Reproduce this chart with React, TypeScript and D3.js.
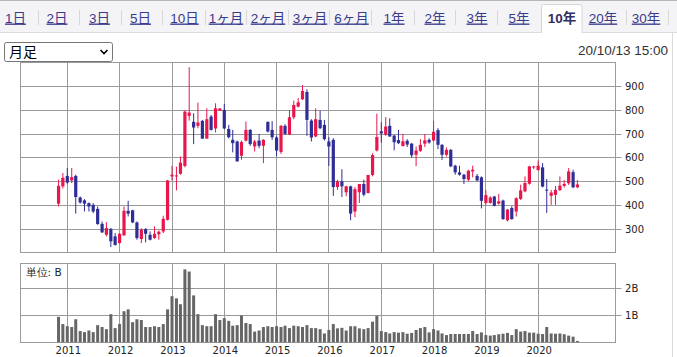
import React from "react";
import * as d3 from "d3";

const tabLabels = ["1日","2日","3日","5日","10日","1ヶ月","2ヶ月","3ヶ月","6ヶ月","1年","2年","3年","5年","10年","20年","30年"];
const tabCenters = [15.5, 57, 99.5, 140.5, 184.5, 226, 268, 310, 351.5, 394, 435, 477, 519, 562, 603, 646];
const tabSeparators = [38, 79, 121, 162, 205, 246, 288, 329, 371, 414, 455, 497, 626, 668];
const selectedTab = "10年";

const months = [
  "2010-11","2010-12",
  "2011-01","2011-02","2011-03","2011-04","2011-05","2011-06","2011-07","2011-08","2011-09","2011-10","2011-11","2011-12",
  "2012-01","2012-02","2012-03","2012-04","2012-05","2012-06","2012-07","2012-08","2012-09","2012-10","2012-11","2012-12",
  "2013-01","2013-02","2013-03","2013-04","2013-05","2013-06","2013-07","2013-08","2013-09","2013-10","2013-11","2013-12",
  "2014-01","2014-02","2014-03","2014-04","2014-05","2014-06","2014-07","2014-08","2014-09","2014-10","2014-11","2014-12",
  "2015-01","2015-02","2015-03","2015-04","2015-05","2015-06","2015-07","2015-08","2015-09","2015-10","2015-11","2015-12",
  "2016-01","2016-02","2016-03","2016-04","2016-05","2016-06","2016-07","2016-08","2016-09","2016-10","2016-11","2016-12",
  "2017-01","2017-02","2017-03","2017-04","2017-05","2017-06","2017-07","2017-08","2017-09","2017-10","2017-11","2017-12",
  "2018-01","2018-02","2018-03","2018-04","2018-05","2018-06","2018-07","2018-08","2018-09","2018-10","2018-11","2018-12",
  "2019-01","2019-02","2019-03","2019-04","2019-05","2019-06","2019-07","2019-08","2019-09","2019-10","2019-11","2019-12",
  "2020-01","2020-02","2020-03","2020-04","2020-05","2020-06","2020-07","2020-08","2020-09","2020-10"
];

const open = [
  407,480,
  524,505,524,433,421,409,402,385,322,276,301,269,
  241,273,377,379,328,258,300,276,262,278,290,339,
  522,522,533,566,777,752,735,756,681,774,724,799,
  802,722,676,669,609,673,718,648,673,651,752,718,
  686,625,735,698,771,816,847,878,757,690,760,739,
  669,676,477,501,455,480,374,455,490,452,528,631,
  712,697,735,694,675,650,672,660,613,630,660,676,
  673,717,655,613,634,567,539,529,508,543,524,518,
  410,410,437,407,420,337,389,374,427,459,491,560,
  549,560,466,440,444,464,482,493,540,476
];
const high = [
  508,536,
  557,557,529,437,426,412,409,395,332,329,304,283,
  283,395,419,381,332,304,304,290,311,294,356,507,
  566,563,606,800,982,788,833,760,809,781,830,810,
  827,739,718,673,673,753,721,676,701,679,753,755,
  693,739,742,802,841,852,907,889,763,809,799,760,
  687,683,508,552,483,483,477,490,508,528,619,786,
  750,772,767,697,718,701,679,663,648,679,701,683,
  756,725,658,644,637,571,567,532,550,567,532,522,
  464,438,440,448,424,385,396,434,487,522,567,567,
  589,578,511,465,482,522,506,557,550,506
];
const low = [
  395,471,
  491,494,365,407,374,374,367,318,283,269,224,230,
  238,273,353,325,255,241,244,252,259,255,283,336,
  505,463,529,560,757,658,725,681,681,715,707,799,
  721,682,623,585,592,669,651,627,641,578,707,676,
  606,617,697,696,763,813,844,693,669,687,721,673,
  566,440,465,435,438,337,350,410,438,450,522,627,
  664,693,690,632,658,648,646,600,565,625,646,660,
  670,637,592,606,561,529,525,490,501,518,501,387,
  403,407,395,403,339,332,339,353,422,455,487,553,
  545,476,368,402,402,460,475,486,472,472
];
const close = [
  482,516,
  496,519,435,412,407,395,374,321,286,304,248,233,
  280,377,365,328,262,297,280,255,280,289,343,505,
  529,526,580,795,791,728,749,681,763,718,809,808,
  724,687,662,585,667,718,658,669,651,676,711,687,
  631,735,701,771,823,834,882,760,686,763,725,679,
  648,477,501,480,480,365,468,490,445,528,612,688,
  703,732,690,666,662,670,656,611,631,655,674,665,
  710,655,613,634,564,539,529,511,546,550,505,419,
  443,433,398,417,342,382,342,430,463,494,564,564,
  567,479,463,454,465,483,490,543,476,488
];
const volume = [
  0.95,0.68,
  0.60,0.57,0.86,0.42,0.38,0.44,0.38,0.64,0.57,0.49,1.05,0.53,
  0.68,1.16,1.23,0.75,0.86,0.83,0.57,0.57,0.60,0.57,0.68,1.23,
  1.72,1.64,1.42,2.72,2.64,1.75,1.05,0.64,0.60,0.60,1.05,0.83,
  0.90,0.80,0.62,0.64,1.00,0.72,0.68,0.40,0.44,0.57,0.60,0.57,
  0.60,0.57,0.62,0.53,0.62,0.60,0.57,0.64,0.53,0.53,0.49,0.33,
  0.46,0.68,0.52,0.54,0.44,0.60,0.60,0.52,0.49,0.53,0.77,0.99,
  0.42,0.38,0.33,0.38,0.36,0.38,0.32,0.35,0.46,0.53,0.57,0.37,
  0.49,0.44,0.33,0.27,0.31,0.31,0.31,0.31,0.31,0.42,0.31,0.37,
  0.27,0.25,0.27,0.30,0.32,0.35,0.27,0.49,0.40,0.42,0.36,0.36,
  0.32,0.31,0.57,0.33,0.32,0.33,0.30,0.25,0.21,0.05
];

const priceTicks = [300, 400, 500, 600, 700, 800, 900];
const volumeTicks = [1, 2];
const yearTicks = [2011, 2012, 2013, 2014, 2015, 2016, 2017, 2018, 2019, 2020];

const UP = "#e8164b";
const DOWN = "#2e2e96";
const GRID = "#9a9a9a";

function parseMonth(s: string) {
  const [y, m] = s.split("-").map(Number);
  return new Date(y, m - 1, 1);
}

export default function App() {
  const left = 20.5, right = 615.5;
  const pTop = 62.5, pBottom = 252.5;
  const vTop = 263.5, vBottom = 342.5;

  const x = d3.scaleTime()
    .domain([new Date(2010, 1, 7), new Date(2021, 5, 24)])
    .range([20.3, 615.5]);
  const y = d3.scaleLinear().domain([202, 1002]).range([252.3, 62.5]);
  const yv = d3.scaleLinear().domain([0, 2.94]).range([342.3, 263.5]);

  const crisp = (v: number) => Math.floor(v) + 0.5;
  const axisFont = "'DejaVu Sans', Verdana, sans-serif";
  const uiFont = "'Liberation Sans', Arial, 'Noto Sans CJK JP', sans-serif";

  const candles = months.map((m, i) => ({
    date: parseMonth(m), o: open[i], h: high[i], l: low[i], c: close[i], v: volume[i],
  }));

  return (
    <svg width={677} height={357} style={{ position: "absolute", left: 0, top: 0, background: "#fff" }}>
      {/* tab bar */}
      <rect x={0} y={0} width={677} height={32} fill="#f4f4f6" />
      <line x1={0} x2={677} y1={0.5} y2={0.5} stroke="#b5b5b5" />
      <line x1={0} x2={677} y1={32.5} y2={32.5} stroke="#dcdcdc" />
      <path d="M541.5,33 V6.5 Q541.5,4.5 543.5,4.5 H580 Q582,4.5 582,6.5 V33" fill="#fff" stroke="#d6d6d6" />
      <rect x={542} y={31} width={39.5} height={3} fill="#fff" />
      {tabSeparators.map((s) => (
        <line key={s} x1={s + 0.5} x2={s + 0.5} y1={10} y2={25} stroke="#d8d8d8" />
      ))}
      {tabLabels.map((t, i) => {
        const sel = t === selectedTab;
        return (
          <text key={t} x={tabCenters[i]} y={22.5} textAnchor="middle"
            fontFamily={uiFont} fontSize={13.5} fontWeight={sel ? "bold" : "normal"}
            fill={sel ? "#2f2f60" : "#3a3a8c"} textDecoration={sel ? "none" : "underline"}>
            {t}
          </text>
        );
      })}
      {/* panel right border */}
      <line x1={672.5} x2={672.5} y1={33} y2={357} stroke="#dcdcdc" />

      {/* select box */}
      <rect x={4.5} y={42.5} width={108} height={19} rx={2} fill="#fff" stroke="#767676" />
      <text x={9} y={57} fontFamily={uiFont} fontSize={14} fill="#000">月足</text>
      <path d="M100.5,50 L104,53.5 L107.5,50" fill="none" stroke="#000" strokeWidth={1.6} />

      <text x={668} y={55} textAnchor="end" fontFamily={uiFont} fontSize={13.5} fill="#333">20/10/13 15:00</text>

      {/* price panel */}
      <rect x={left} y={pTop} width={right - left} height={pBottom - pTop} fill="#fff" stroke={GRID} />
      {priceTicks.map((t) => (
        <g key={t}>
          <line x1={left} x2={right + 6} y1={crisp(y(t))} y2={crisp(y(t))} stroke={GRID} />
          <text x={625} y={y(t)} dy="0.35em" fontFamily={axisFont} fontSize={10} fill="#222">{t}</text>
        </g>
      ))}
      {yearTicks.map((yr) => (
        <line key={yr} x1={crisp(x(new Date(yr, 0, 1)))} x2={crisp(x(new Date(yr, 0, 1)))} y1={pTop} y2={pBottom} stroke={GRID} />
      ))}
      {candles.map((d, i) => {
        const cx = x(d.date);
        const up = d.c >= d.o;
        const col = up ? UP : DOWN;
        const top = y(Math.max(d.o, d.c));
        const bot = y(Math.min(d.o, d.c));
        return (
          <g key={i}>
            <line x1={cx} x2={cx} y1={y(d.h)} y2={y(d.l)} stroke={col} strokeWidth={1} />
            <rect x={cx - 1.6} y={top} width={3.2} height={Math.max(1, bot - top)} fill={col} />
          </g>
        );
      })}

      {/* volume panel */}
      <rect x={left} y={vTop} width={right - left} height={vBottom - vTop} fill="#fff" stroke={GRID} />
      {volumeTicks.map((t) => (
        <g key={t}>
          <line x1={left} x2={right + 6} y1={crisp(yv(t))} y2={crisp(yv(t))} stroke={GRID} />
          <text x={625} y={yv(t)} dy="0.35em" fontFamily={axisFont} fontSize={10} fill="#222">{t}B</text>
        </g>
      ))}
      {yearTicks.map((yr) => (
        <g key={yr}>
          <line x1={crisp(x(new Date(yr, 0, 1)))} x2={crisp(x(new Date(yr, 0, 1)))} y1={vTop} y2={vBottom} stroke={GRID} />
          <text x={x(new Date(yr, 0, 1)) + 1} y={354} textAnchor="middle" fontFamily={axisFont} fontSize={10} fill="#222">{yr}</text>
        </g>
      ))}
      {candles.map((d, i) => (
        <rect key={i} x={x(d.date) - 1.5} y={yv(d.v)} width={3} height={yv(0) - yv(d.v)} fill="#666" />
      ))}
      <text x={25.5} y={275.5} fontFamily={axisFont} fontSize={10.5} fill="#222">単位: B</text>
    </svg>
  );
}
